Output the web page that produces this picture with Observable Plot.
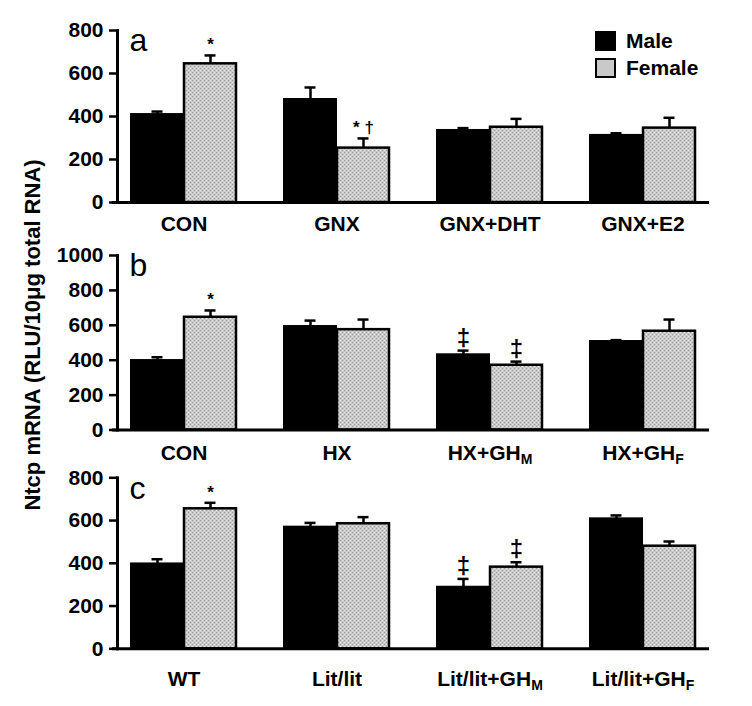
<!DOCTYPE html>
<html><head><meta charset="utf-8">
<script src="https://cdn.jsdelivr.net/npm/d3@7"></script>
<script src="https://cdn.jsdelivr.net/npm/@observablehq/plot@0.6"></script>
<style>
body{margin:0;background:#fff;font-family:"Liberation Sans",Arial,sans-serif;}
#wrap{position:relative;width:752px;height:706px;overflow:hidden;}
#wrap svg{display:block;}
#ylab{position:absolute;left:33px;top:335px;transform:translate(-50%,-50%) rotate(-90deg);font-weight:bold;font-size:22px;white-space:nowrap;color:#000;}
#legend{position:absolute;left:595px;top:27px;font-weight:bold;font-size:21px;line-height:27px;color:#000;}
#legend .row{display:flex;align-items:center;height:27px;}
#legend .sw{width:17px;height:16px;border:2px solid #000;margin-right:10px;box-sizing:content-box;}
</style></head>
<body>
<svg width="0" height="0" style="position:absolute">
  <defs>
    <pattern id="femalePat" width="4" height="4" patternUnits="userSpaceOnUse">
      <rect width="4" height="4" fill="#c9c9c9"/>
      <rect width="1" height="1" fill="#9a9a9a"/>
      <rect x="2" y="2" width="1" height="1" fill="#9a9a9a"/>
      <rect x="2" y="0" width="1" height="1" fill="#e6e6e6"/>
      <rect x="0" y="2" width="1" height="1" fill="#e6e6e6"/>
    </pattern>
  </defs>
</svg>
<div id="wrap">
  <div id="panels"></div>
  <div id="ylab">Ntcp mRNA (RLU/10μg total RNA)</div>
  <div id="legend"></div>
</div>
<script>
const sexes = ["Male", "Female"];

// Panel a
const groupsA = ["CON", "GNX", "GNX+DHT", "GNX+E2"];
const maleA = [409, 479, 335, 312];
const maleSemA = [14, 56, 11, 10];
const femaleA = [645, 253, 350, 346];
const femaleSemA = [39, 45, 39, 48];
const sigMaleA = ["", "", "", ""];
const sigFemaleA = ["*", "* †", "", ""];
const ticksA = [0, 200, 400, 600, 800];

// Panel b
const groupsB = ["CON", "HX", "HX+GH_M", "HX+GH_F"];
const maleB = [398, 593, 431, 507];
const maleSemB = [19, 34, 24, 8];
const femaleB = [646, 575, 371, 566];
const femaleSemB = [39, 58, 21, 67];
const sigMaleB = ["", "", "‡", ""];
const sigFemaleB = ["*", "", "‡", ""];
const ticksB = [0, 200, 400, 600, 800, 1000];

// Panel c
const groupsC = ["WT", "Lit/lit", "Lit/lit+GH_M", "Lit/lit+GH_F"];
const maleC = [397, 569, 288, 608];
const maleSemC = [22, 20, 39, 16];
const femaleC = [655, 585, 382, 480];
const femaleSemC = [28, 31, 23, 22];
const sigMaleC = ["", "", "‡", ""];
const sigFemaleC = ["*", "", "‡", ""];
const ticksC = [0, 200, 400, 600, 800];

const colors = {Male: "#000", Female: "url(#femalePat)"};
const half = 26.5;

function rowsOf(groups, mv, ms, fv, fs, sm, sf) {
  return groups.flatMap((g, i) => [
    {group: g, sex: "Male", value: mv[i], sem: ms[i], sig: sm[i]},
    {group: g, sex: "Female", value: fv[i], sem: fs[i], sig: sf[i]}
  ]);
}

function panel({letter, groups, rows, ticks, height, marginTop, marginBottom, xPad}) {
  const male = rows.filter(d => d.sex === "Male");
  const female = rows.filter(d => d.sex === "Female");
  const ymax = ticks[ticks.length - 1];
  const errMarks = (data, dx) => [
    Plot.ruleX(data, {x: "group", y1: "value", y2: d => d.value + d.sem, dx, stroke: "#000", strokeWidth: 2.5}),
    Plot.tickY(data, {x: "group", y: d => d.value + d.sem, dx, insetLeft: 47, insetRight: 47, stroke: "#000", strokeWidth: 2.5}),
    Plot.text(data.filter(d => d.sig), {x: "group", y: d => d.value + d.sem, text: "sig", dx, dy: -5, lineAnchor: "bottom",
      fontSize: d => d.sig.includes("‡") ? 24 : 17, fontWeight: "bold", fill: "#000"})
  ];
  const svg = Plot.plot({
    width: 752, height, marginLeft: 117, marginRight: 43, marginTop, marginBottom,
    style: {fontFamily: "'Liberation Sans', Arial, sans-serif", fontWeight: "bold", color: "#000", background: "#fff", overflow: "visible"},
    x: {type: "band", domain: groups, paddingInner: 0.3117, paddingOuter: 0.078},
    y: {domain: [0, ymax]},
    marks: [
      Plot.barY(male, {x: "group", y: "value", fill: colors.Male, stroke: "#000", strokeWidth: 2, insetRight: half * 2}),
      Plot.barY(female, {x: "group", y: "value", fill: colors.Female, stroke: "#000", strokeWidth: 2.5, insetLeft: half * 2}),
      ...errMarks(male, -half),
      ...errMarks(female, half),
      Plot.ruleY([0], {stroke: "#000", strokeWidth: 3, insetLeft: -5}),
      Plot.frame({anchor: "left", stroke: "#000", strokeWidth: 3}),
      Plot.axisY({ticks, tickSize: 8, tickPadding: 6, strokeWidth: 2.5, fontSize: 21, fontWeight: "bold", label: null, tickFormat: d => String(d)}),
      Plot.axisX({tickSize: 0, tickPadding: xPad, fontSize: 21, fontWeight: "bold", label: null, tickFormat: d => d}),
      Plot.text([letter], {frameAnchor: "top-left", text: d => d, dx: 12, dy: -2, lineAnchor: "top", fontSize: 32, fontWeight: "normal", fill: "#000"})
    ]
  });
  // subscripts for GH_M / GH_F
  d3.select(svg).selectAll("text").each(function() {
    const t = d3.select(this);
    const tx = t.text();
    if (tx.includes("_") && this.childNodes.length === 1 && this.firstChild.nodeType === 3) {
      const [main, sub] = tx.split("_");
      t.text(null);
      t.append("tspan").text(main);
      t.append("tspan").attr("dy", "0.3em").attr("font-size", "14px").text(sub);
    }
  });
  return svg;
}

const panels = document.getElementById("panels");
panels.append(panel({letter: "a", groups: groupsA, rows: rowsOf(groupsA, maleA, maleSemA, femaleA, femaleSemA, sigMaleA, sigFemaleA),
  ticks: ticksA, height: 230, marginTop: 30, marginBottom: 28, xPad: 14}));
panels.append(panel({letter: "b", groups: groupsB, rows: rowsOf(groupsB, maleB, maleSemB, femaleB, femaleSemB, sigMaleB, sigFemaleB),
  ticks: ticksB, height: 230, marginTop: 25, marginBottom: 30.5, xPad: 15}));
panels.append(panel({letter: "c", groups: groupsC, rows: rowsOf(groupsC, maleC, maleSemC, femaleC, femaleSemC, sigMaleC, sigFemaleC),
  ticks: ticksC, height: 246, marginTop: 17.3, marginBottom: 57.7, xPad: 22}));

// legend
const leg = d3.select("#legend");
sexes.forEach(s => {
  const r = leg.append("div").attr("class", "row");
  r.append("div").attr("class", "sw").style("background", s === "Male" ? "#000" : "#c9c9c9");
  r.append("span").text(s);
});
</script>
</body></html>
